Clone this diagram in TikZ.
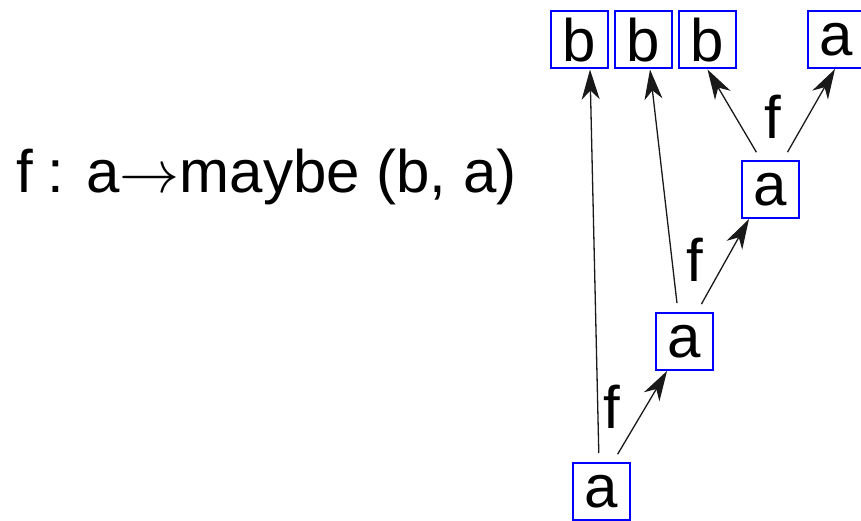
\RequirePackage{fix-cm}
\documentclass[tikz,border=0pt]{standalone}
\usepackage{fontspec}
\setmainfont{Liberation Sans}
\usetikzlibrary{arrows.meta}
\begin{document}
\begin{tikzpicture}[x=1pt,y=-1pt,
  box/.style={draw=blue, line width=2pt, minimum size=57pt, inner sep=0pt, fill=white,
    font=\fontsize{60}{60}\selectfont},
  lbl/.style={inner sep=0pt, font=\fontsize{60}{60}\selectfont},
  conn/.style={line width=1.3pt, draw=black!90, shorten <=9pt,
    -{Stealth[length=30pt,width=18pt,inset=9pt]}}]
\useasboundingbox (0,0) rectangle (861,521);
% nodes
\node[box] (b1) at (579.5,40) {b};
\node[box] (b2) at (643.5,40) {b};
\node[box] (b3) at (707.5,40) {b};
\node[box] (a4) at (836,39.5) {a};
\node[box] (au) at (770.5,189.5) {a};
\node[box] (am) at (684,341.5) {a};
\node[box] (ab) at (601.5,491.5) {a};
% labels
\node[lbl, anchor=base west] (sig) at (16,193) {f\kern-2pt{} : a$\rightarrow$maybe (b, a)};
\node[lbl] (f1) at (612,407) {f};
\node[lbl] (f2) at (695,260) {f};
\node[lbl] (f3) at (773,117) {f};
% connectors
\draw[conn] ([xshift=-2.5pt]ab.north) -- ([xshift=10.5pt]b1.south);
\draw[conn] ([xshift=11.5pt]ab.north) -- ([xshift=-17pt]am.south);
\draw[conn] ([xshift=-6pt]am.north) -- ([xshift=6.5pt]b2.south);
\draw[conn] ([xshift=13pt]am.north) -- ([xshift=-21.5pt]au.south);
\draw[conn] ([xshift=-9.5pt]au.north) -- (b3.south);
\draw[conn] ([xshift=12.5pt]au.north) -- ([xshift=-1pt]a4.south);
\end{tikzpicture}
\end{document}
